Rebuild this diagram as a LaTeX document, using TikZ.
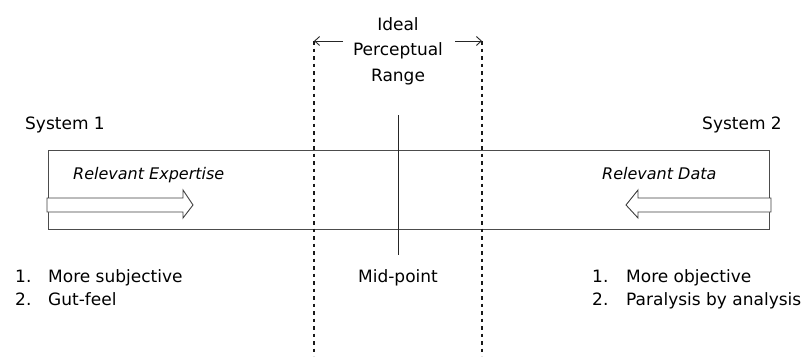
\documentclass[tikz,border=0pt]{standalone}
\usepackage{fontspec}
\setmainfont{DejaVu Sans}
\usetikzlibrary{arrows.meta}
\begin{document}
\begin{tikzpicture}[x=1pt,y=-1pt,
  txt/.style={inner sep=0pt,font=\fontsize{17}{20}\selectfont,text=black},
  itxt/.style={inner sep=0pt,font=\fontsize{16}{19}\selectfont\itshape,text=black},
  rangeline/.style={line width=1.1pt,draw=black!90,dash pattern=on 3.5pt off 4pt},
  thin/.style={line width=0.9pt,draw=black!85},
  hollow/.style={line width=0.9pt,draw=black!75,fill=white}]
\useasboundingbox (0,0) rectangle (811,356);
% band
\node[draw=black!70,line width=0.9pt,inner sep=0pt,minimum width=721pt,minimum height=79pt,anchor=north west] (band) at (48,150) {};
% range dashed lines
\coordinate (lt) at (314,41);
\coordinate (lb) at (314,356);
\coordinate (rt) at (482,41);
\coordinate (rb) at (482,356);
\draw[rangeline] (lt) -- (lb);
\draw[rangeline] (rt) -- (rb);
% range title
\node[txt,anchor=base] (ideal) at (398,30) {Ideal};
\node[txt,anchor=base] (perc) at (398,55) {Perceptual};
\node[txt,anchor=base] (range) at (398,81) {Range};
\coordinate (la) at (343,41);
\coordinate (ra) at (455,41);
\draw[thin,-{Straight Barb[length=5pt,width=9pt]}] (la) -- (lt);
\draw[thin,-{Straight Barb[length=5pt,width=9pt]}] (ra) -- (rt);
% midline
\coordinate (mt) at (398,115);
\coordinate (mb) at (398,255);
\draw[thin] (mt) -- (mb);
\node[txt,anchor=base] (mid) at (398,282) {Mid-point};
% systems
\node[txt,anchor=base west] (s1) at (25,129) {System 1};
\node[txt,anchor=base west] (s2) at (702,129) {System 2};
\node[itxt,anchor=base west] (re) at (73,179) {Relevant Expertise};
\node[itxt,anchor=base west] (rd) at (602,179) {Relevant Data};
% hollow arrows
\draw[hollow] (47,198) -- (183,198) -- (183,190) -- (193,205) -- (183,218) -- (183,212) -- (47,212) -- cycle;
\draw[hollow] (771,198) -- (638,198) -- (638,190) -- (626,205) -- (638,218) -- (638,212) -- (771,212) -- cycle;
% lists
\node[txt,anchor=base west] (l1n) at (15,282) {1.};
\node[txt,anchor=base west] (l1) at (48,282) {More subjective};
\node[txt,anchor=base west] (l2n) at (15,305) {2.};
\node[txt,anchor=base west] (l2) at (48,305) {Gut-feel};
\node[txt,anchor=base west] (r1n) at (592,282) {1.};
\node[txt,anchor=base west] (r1) at (626,282) {More objective};
\node[txt,anchor=base west] (r2n) at (592,305) {2.};
\node[txt,anchor=base west] (r2) at (626,305) {Paralysis by analysis};
\end{tikzpicture}
\end{document}
